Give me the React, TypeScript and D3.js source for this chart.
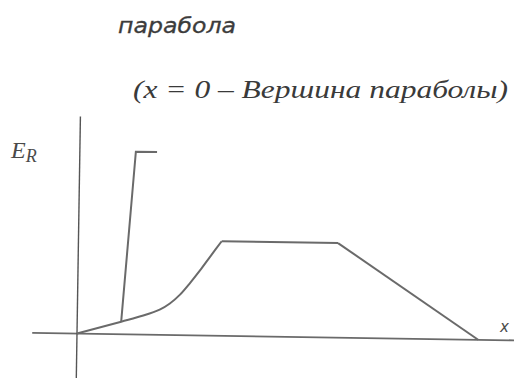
import React, { useEffect, useRef } from "react";
import * as d3 from "d3";

// curve E_R(x): rises from the vertex, flat top, then falls back to zero
const curveX = [0, 1.1, 1.65, 2.07, 2.31, 2.56, 2.8, 3.05, 3.3, 3.58];
const curveY = [0, 1.25, 1.9, 2.55, 3.15, 4.05, 5.2, 6.5, 7.9, 9.45];
const plateauX = [3.58, 6.49];
const plateauY = [9.45, 9.45];
const fallX = [6.49, 10.03];
const fallY = [9.45, 0];

// steep branch leaving the curve
const steepX = [1.1, 1.4, 1.93];
const steepY = [1.25, 18.27, 18.27];

const xAxisExtent = [-1.12, 11.5];
const yAxisExtent = [-4.6, 21.7];

const titleTop = "парабола";
const titleNote = "(x = 0 – Вершина параболы)";
const yLabel = "E";
const yLabelSub = "R";
const xLabel = "x";

const App = () => {
  const chartRef = useRef<SVGSVGElement | null>(null);

  useEffect(() => {
    const width = 514;
    const height = 378;
    const originX = 77;
    const originY = 333.5;

    const svg = d3.select(chartRef.current);
    svg.selectAll("*").remove();

    const x = d3.scaleLinear().domain([0, 10]).range([0, 400]);
    const y = d3.scaleLinear().domain([0, 10]).range([0, -100]);

    svg.append("rect").attr("width", width).attr("height", height).attr("fill", "#fff");

    // the scan is tilted a little, so the drawing is too
    const g = svg
      .append("g")
      .attr("transform", `translate(${originX},${originY}) rotate(0.9)`);

    const stroke = "#6a6a6a";

    g.append("line")
      .attr("x1", x(xAxisExtent[0]))
      .attr("x2", x(xAxisExtent[1]))
      .attr("y1", y(0))
      .attr("y2", y(0))
      .attr("stroke", stroke)
      .attr("stroke-width", 1.8);

    g.append("line")
      .attr("x1", x(0))
      .attr("x2", x(0))
      .attr("y1", y(yAxisExtent[0]))
      .attr("y2", y(yAxisExtent[1]))
      .attr("stroke", "#555")
      .attr("stroke-width", 1.4);

    const line = d3
      .line<[number, number]>()
      .x((d) => x(d[0]))
      .y((d) => y(d[1]));

    const smooth = d3
      .line<[number, number]>()
      .x((d) => x(d[0]))
      .y((d) => y(d[1]))
      .curve(d3.curveCatmullRom.alpha(0.5));

    const zip = (xs: number[], ys: number[]) =>
      xs.map((v, i) => [v, ys[i]] as [number, number]);

    g.append("path")
      .attr("d", smooth(zip(curveX, curveY)))
      .attr("fill", "none")
      .attr("stroke", stroke)
      .attr("stroke-width", 2);

    [zip(plateauX, plateauY), zip(fallX, fallY), zip(steepX, steepY)].forEach((pts) => {
      g.append("path")
        .attr("d", line(pts))
        .attr("fill", "none")
        .attr("stroke", stroke)
        .attr("stroke-width", 2)
        .attr("stroke-linejoin", "miter");
    });

    // texts
    svg
      .append("text")
      .attr("x", 118)
      .attr("y", 33)
      .attr("font-family", "DejaVu Sans")
      .attr("font-style", "italic")
      .attr("font-size", 21)
      .attr("fill", "#3c3c3c")
      .attr("stroke", "#3c3c3c")
      .attr("stroke-width", 0.3)
      .attr("textLength", 118)
      .attr("lengthAdjust", "spacingAndGlyphs")
      .text(titleTop);

    svg
      .append("text")
      .attr("x", 133)
      .attr("y", 98)
      .attr("font-family", "Liberation Serif")
      .attr("font-style", "italic")
      .attr("font-size", 25)
      .attr("fill", "#3a3a3a")
      .attr("textLength", 375)
      .attr("lengthAdjust", "spacingAndGlyphs")
      .text(titleNote);

    const yl = svg
      .append("text")
      .attr("x", 11)
      .attr("y", 158)
      .attr("font-family", "Liberation Serif")
      .attr("font-style", "italic")
      .attr("font-size", 24)
      .attr("fill", "#4a4a4a");
    yl.append("tspan").text(yLabel);
    yl.append("tspan").attr("font-size", 18).attr("dy", 4).text(yLabelSub);

    svg
      .append("text")
      .attr("x", 500)
      .attr("y", 332)
      .attr("font-family", "DejaVu Sans")
      .attr("font-style", "italic")
      .attr("font-size", 15)
      .attr("fill", "#4a4a4a")
      .text(xLabel);
  }, []);

  return (
    <svg
      ref={chartRef}
      width={514}
      height={378}
      style={{ position: "absolute", left: 0, top: 0, display: "block" }}
    />
  );
};

export default App;
